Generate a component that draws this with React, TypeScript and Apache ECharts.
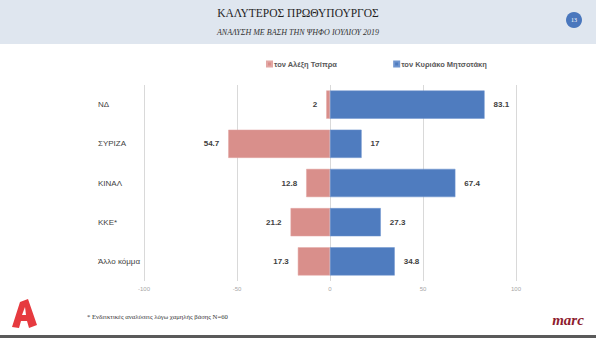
import React, { useEffect, useRef } from "react";
import * as echarts from "echarts";

const categories = ["ΝΔ", "ΣΥΡΙΖΑ", "ΚΙΝΑΛ", "ΚΚΕ*", "Άλλο κόμμα"];
const tsipras = [2, 54.7, 12.8, 21.2, 17.3];
const mitsotakis = [83.1, 17, 67.4, 27.3, 34.8];
const seriesNames = ["τον Αλέξη Τσίπρα", "τον Κυριάκο Μητσοτάκη"];
const title = "ΚΑΛΥΤΕΡΟΣ ΠΡΩΘΥΠΟΥΡΓΟΣ";
const subtitle = "ΑΝΑΛΥΣΗ ΜΕ ΒΑΣΗ ΤΗΝ ΨΗΦΟ ΙΟΥΛΙΟΥ 2019";
const footnote = "* Ενδεικτικές αναλύσεις λόγω χαμηλής βάσης Ν=60";

export default function App() {
  const ref = useRef<HTMLDivElement>(null);
  useEffect(() => {
    if (!ref.current) return;
    const chart = echarts.init(ref.current, null, { renderer: "svg" });
    const labelStyle = {
      show: true,
      fontFamily: "Liberation Sans, Arial, sans-serif",
      fontSize: 8,
      fontWeight: "bold" as const,
      color: "#404040",
      distance: 9,
    };
    chart.setOption({
      animation: false,
      backgroundColor: "#ffffff",
      legend: {
        data: seriesNames,
        left: 261,
        top: 55,
        itemWidth: 5,
        itemHeight: 5,
        itemGap: 56,
        icon: "rect",
        textStyle: {
          fontFamily: "Liberation Sans, Arial, sans-serif",
          fontSize: 7.5,
          fontWeight: "bold",
          color: "#595959",
          padding: [0, 0, 0, -3],
        },
      },
      grid: { left: 144, right: 80, top: 85, bottom: 57 },
      xAxis: {
        type: "value",
        min: -100,
        max: 100,
        interval: 50,
        axisLine: { show: false },
        axisTick: { show: false },
        splitLine: { show: true, lineStyle: { color: "#d9d9d9", width: 1 } },
        axisLabel: {
          fontFamily: "Liberation Sans, Arial, sans-serif",
          fontSize: 6,
          color: "#a6a6a6",
          margin: 5,
        },
      },
      yAxis: {
        type: "category",
        data: categories,
        inverse: true,
        axisLine: { show: false },
        axisTick: { show: false },
        splitLine: { show: false },
        axisLabel: {
          align: "left",
          margin: 46,
          fontFamily: "Liberation Sans, Arial, sans-serif",
          fontSize: 8,
          color: "#3f3f3f",
        },
      },
      series: [
        {
          name: seriesNames[0],
          type: "bar",
          stack: "total",
          barWidth: "72%",
          data: tsipras.map((v) => -v),
          itemStyle: { color: "#d98f8b", borderColor: "#e3a7a4", borderWidth: 0.5 },
          label: {
            ...labelStyle,
            position: "left",
            formatter: (p: any) => String(Math.abs(p.value)),
          },
        },
        {
          name: seriesNames[1],
          type: "bar",
          stack: "total",
          barWidth: "72%",
          data: mitsotakis,
          itemStyle: { color: "#4f7cbf", borderColor: "#6f95cf", borderWidth: 0.5 },
          label: { ...labelStyle, position: "right" },
        },
      ],
      graphic: [
        {
          type: "rect",
          shape: { x: 0, y: 0, width: 596, height: 44 },
          style: { fill: "#dfe6ef" },
          z: -1,
        },
        {
          type: "text",
          x: 298,
          y: 13,
          style: {
            text: title,
            fontFamily: "Liberation Serif, Times New Roman, serif",
            fontSize: 11.5,
            fill: "#1f1f1f",
            align: "center",
            verticalAlign: "middle",
          },
        },
        {
          type: "text",
          x: 298,
          y: 32,
          style: {
            text: subtitle,
            fontFamily: "Liberation Serif, Times New Roman, serif",
            fontSize: 8,
            fontStyle: "italic",
            fill: "#333333",
            align: "center",
            verticalAlign: "middle",
          },
        },
        {
          type: "circle",
          shape: { cx: 574, cy: 20, r: 8 },
          style: { fill: "#4a77bd" },
        },
        {
          type: "text",
          x: 574,
          y: 20,
          style: {
            text: "13",
            fontFamily: "Liberation Serif, serif",
            fontSize: 6,
            fill: "#ffffff",
            align: "center",
            verticalAlign: "middle",
          },
        },
        {
          type: "polygon",
          shape: {
            points: [
              [12, 327],
              [20, 302],
              [28, 299],
              [37, 325],
              [29, 328],
              [27, 321],
              [21, 321],
              [19, 328],
            ],
          },
          style: { fill: "#e63a3f" },
        },
        {
          type: "polygon",
          shape: { points: [[22, 315], [25, 307], [26, 315]] },
          style: { fill: "#ffffff" },
        },
        {
          type: "text",
          x: 87,
          y: 316,
          style: {
            text: footnote,
            fontFamily: "Liberation Serif, Times New Roman, serif",
            fontSize: 6.7,
            fill: "#333333",
            verticalAlign: "middle",
          },
        },
        {
          type: "text",
          x: 568,
          y: 320,
          style: {
            text: "marc",
            fontFamily: "Liberation Serif, Times New Roman, serif",
            fontSize: 15,
            fontStyle: "italic",
            fontWeight: "bold",
            fill: "#8e1b2e",
            align: "center",
            verticalAlign: "middle",
          },
        },
        {
          type: "rect",
          shape: { x: 0, y: 335, width: 596, height: 3 },
          style: { fill: "#5a5a5a" },
        },
      ],
    });
    return () => chart.dispose();
  }, []);
  return (
    <div
      ref={ref}
      style={{ position: "fixed", left: 0, top: 0, width: 596, height: 338 }}
    />
  );
}
